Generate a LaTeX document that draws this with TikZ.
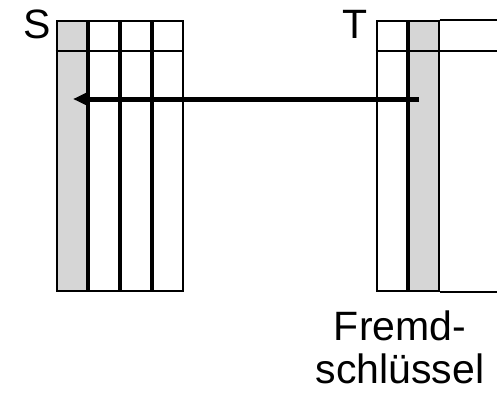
\documentclass[tikz,border=0pt]{standalone}
\usepackage{fontspec}
\setmainfont{Liberation Sans}
\usetikzlibrary{arrows.meta}
\definecolor{keygray}{RGB}{214,214,214}
\tikzset{
  col/.style={draw=black, line width=2.2pt, rectangle, inner sep=0pt, minimum width=30pt, minimum height=270pt, anchor=north west},
  keycol/.style={col, fill=keygray},
  hdr/.style={draw=black, line width=1.6pt},
  lbl/.style={font=\fontsize{41}{43}\selectfont, inner sep=0pt, anchor=base},
  fk/.style={line width=5pt, -{Triangle[length=15pt,width=13pt]}}
}
\begin{document}
\begin{tikzpicture}[x=1pt,y=-1pt]
\useasboundingbox (0,0) rectangle (497,392);
% table S
\node[keycol] (s1) at (55.5,20) {};
\node[col] (s2) at (87.5,20) {};
\node[col] (s3) at (119.5,20) {};
\node[col] (s4) at (151.5,20) {};
\draw[hdr] (s1.west |- 0,51) -- (s4.east |- 0,51);
% table T
\node[col] (t1) at (375.5,20) {};
\node[keycol] (t2) at (407.5,20) {};
\draw[line width=2.2pt] (t2.north east) -- (t2.north east -| 498,0)
  (t2.south east) -- (t2.south east -| 498,0);
\draw[hdr] (t1.west |- 0,51) -- (498,51);
% labels
\node[lbl] (S) at (37,38) {S};
\node[lbl] (T) at (355,38) {T};
\node[lbl, align=center, anchor=base] (fkl) at (400,383.5) {Fremd-\\schlüssel};
% arrow
\coordinate (fksrc) at (419,99);
\coordinate (pkdst) at (73,99);
\draw[fk] (fksrc) -- (pkdst);
\end{tikzpicture}
\end{document}
